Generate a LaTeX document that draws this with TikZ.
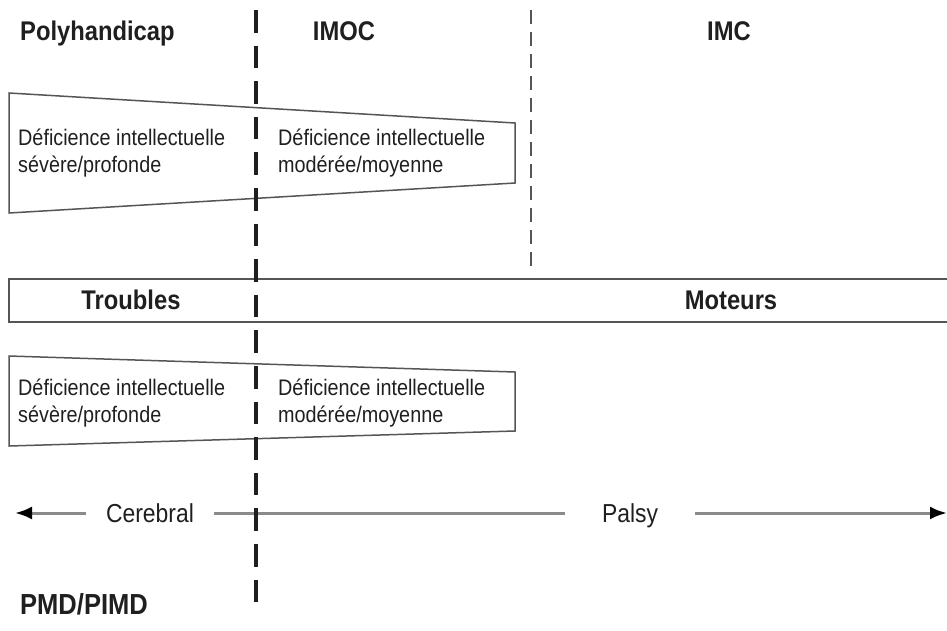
\documentclass[tikz,border=0pt]{standalone}
\usepackage{fontspec}
\setmainfont{Liberation Sans}
\newfontfamily\narrowfont{Liberation Sans}[FakeStretch=0.88]
\usepackage{xcolor}
\usepackage{tikz}
\usetikzlibrary{arrows.meta, positioning}

\definecolor{ink}{HTML}{1F1F1F}
\definecolor{edge}{HTML}{555555}
\definecolor{axisgray}{HTML}{8A8A8A}

\begin{document}
\begin{tikzpicture}[
  x=1pt, y=-1pt,
  title/.style={font=\narrowfont\fontsize{27}{30}\selectfont\bfseries, text=ink, inner sep=0pt},
  body/.style={font=\narrowfont\fontsize{22.5}{27}\selectfont, text=ink, align=left, inner sep=0pt, anchor=base west},
  band/.style={font=\narrowfont\fontsize{27}{30}\selectfont\bfseries, text=ink, inner sep=0pt, anchor=base},
  wedge/.style={draw=edge, line width=1.5pt},
  bigdash/.style={draw=ink, line width=4pt, dash pattern=on 22.6pt off 13pt},
  smalldash/.style={draw=edge, line width=1.5pt, dash pattern=on 14pt off 8pt},
  axis/.style={draw=axisgray, line width=3pt},
  tip/.style={font=\narrowfont\fontsize{26}{30}\selectfont, text=ink, anchor=base}
]
\useasboundingbox (0,0) rectangle (947,630);

% top titles
\node[title, anchor=base west] (poly) at (20,40) {Polyhandicap};
\node[title, anchor=base] (imoc) at (344,40) {IMOC};
\node[title, anchor=base] (imc) at (729,40) {IMC};

% upper wedge
\draw[wedge] (9,93) -- (515,123) -- (515,183) -- (9,213) -- cycle;
\node[body] (sev1) at (18,172) {Déficience intellectuelle\\sévère/profonde};
\node[body] (mod1) at (278,172) {Déficience intellectuelle\\modérée/moyenne};

% band
\draw[draw=edge, line width=2pt] (9,279) rectangle (951,322);
\node[band] (troub) at (131,309) {Troubles};
\node[band] (mot) at (731,309) {Moteurs};

% lower wedge
\draw[wedge] (9,356) -- (515,372) -- (515,431) -- (9,446) -- cycle;
\node[body] (sev2) at (18,422) {Déficience intellectuelle\\sévère/profonde};
\node[body] (mod2) at (278,422) {Déficience intellectuelle\\modérée/moyenne};

% cerebral palsy axis
\coordinate (aL) at (15,513);
\coordinate (aR) at (947,513);
\node[tip, inner xsep=20pt] (cer) at (150,522) {Cerebral};
\node[tip, inner xsep=37pt] (pal) at (630,522) {Palsy};
\draw[axis, {Latex[length=17pt,width=13pt,color=black]}-] (aL) -- (aL -| cer.west);
\draw[axis] (cer.east |- aL) -- (pal.west |- aL);
\draw[axis, -{Latex[length=17pt,width=13pt,color=black]}] (pal.east |- aL) -- (aR);

\node[title, anchor=base west, font=\narrowfont\fontsize{29}{32}\selectfont\bfseries] (pmd) at (20,614) {PMD/PIMD};

% separators
\draw[bigdash] (256,10) -- (256,603);
\draw[smalldash] (531,10) -- (531,268);
\end{tikzpicture}
\end{document}
